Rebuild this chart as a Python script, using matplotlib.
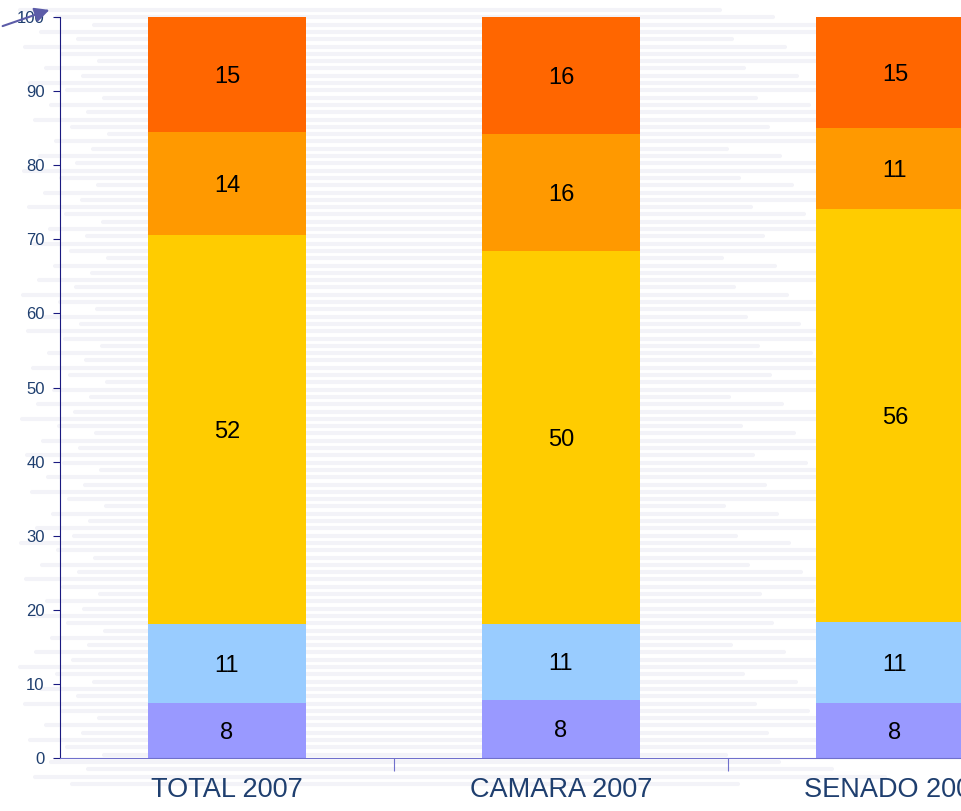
import matplotlib
matplotlib.use("Agg")
import matplotlib.pyplot as plt
import numpy as np

plt.rcParams['font.family'] = ['Liberation Sans', 'DejaVu Sans']

categories = ["TOTAL 2007", "CAMARA 2007", "SENADO 2007"]

# segment heights (bottom to top)
seg1 = [7.4, 7.8, 7.4]
seg2 = [10.7, 10.3, 11.0]
seg3 = [52.5, 50.3, 55.7]
seg4 = [13.9, 15.8, 10.9]
seg5 = [15.5, 15.8, 15.0]

# printed labels
lab1 = [8, 8, 8]
lab2 = [11, 11, 11]
lab3 = [52, 50, 56]
lab4 = [14, 16, 11]
lab5 = [15, 16, 15]

colors = ["#9999FF", "#99CCFF", "#FFCC00", "#FF9900", "#FF6600"]

fig = plt.figure(figsize=(9.61, 8.11), dpi=100)

# faint striped background
bg = fig.add_axes([0, 0, 1, 1], zorder=0)
bg.set_xlim(0, 961)
bg.set_ylim(811, 0)
bg.axis("off")
for i, y in enumerate(np.arange(10, 790, 7.3)):
    x0 = 20 + (i * 37) % 90
    x1 = 720 + (i * 53) % 200
    bg.plot([x0, x1], [y, y], color="#F3F3F8", lw=3, solid_capstyle="round")

ax = fig.add_axes([60 / 961, 53 / 811, 1002 / 961, 741 / 811], zorder=1)
ax.patch.set_alpha(0)

x = np.arange(len(categories))
segs = [seg1, seg2, seg3, seg4, seg5]
labs = [lab1, lab2, lab3, lab4, lab5]
bottom = np.zeros(len(categories))
for s, l, c in zip(segs, labs, colors):
    s = np.array(s)
    ax.bar(x, s, width=0.473, bottom=bottom, color=c, edgecolor="none")
    for xi, b, h, t in zip(x, bottom, s, l):
        ax.text(xi, b + h / 2 - 0.3, str(t), ha="center", va="center",
                fontsize=17, color="black")
    bottom = bottom + s

ax.set_xlim(-0.5, 2.5)
ax.set_ylim(0, 100)
ax.set_yticks(np.arange(0, 101, 10))
ax.tick_params(axis="y", direction="out", length=5, color="#1A1A80",
               labelsize=12, labelcolor="#1F3F6F", pad=6)
ax.set_xticks([0.5, 1.5], minor=False)
ax.set_xticklabels([])
ax.tick_params(axis="x", direction="out", length=9, color="#7070CC")
for xi, name in zip(x, categories):
    ax.text(xi, -4.3, name, ha="center", va="center", fontsize=19.5,
            color="#1F3F6F", transform=ax.transData)

for sp in ["top", "right"]:
    ax.spines[sp].set_visible(False)
ax.spines["left"].set_color("#1A1A80")
ax.spines["bottom"].set_color("#7070CC")
ax.spines["left"].set_bounds(0, 100)

# arrow pointing at the top tick label
fig.patches.append(matplotlib.patches.FancyArrowPatch(
    (0, 811 - 27), (52, 811 - 9), transform=None,
    arrowstyle="-|>", mutation_scale=22, color="#5C5CA8", lw=1.5))

fig.savefig("out.png", dpi=100)
